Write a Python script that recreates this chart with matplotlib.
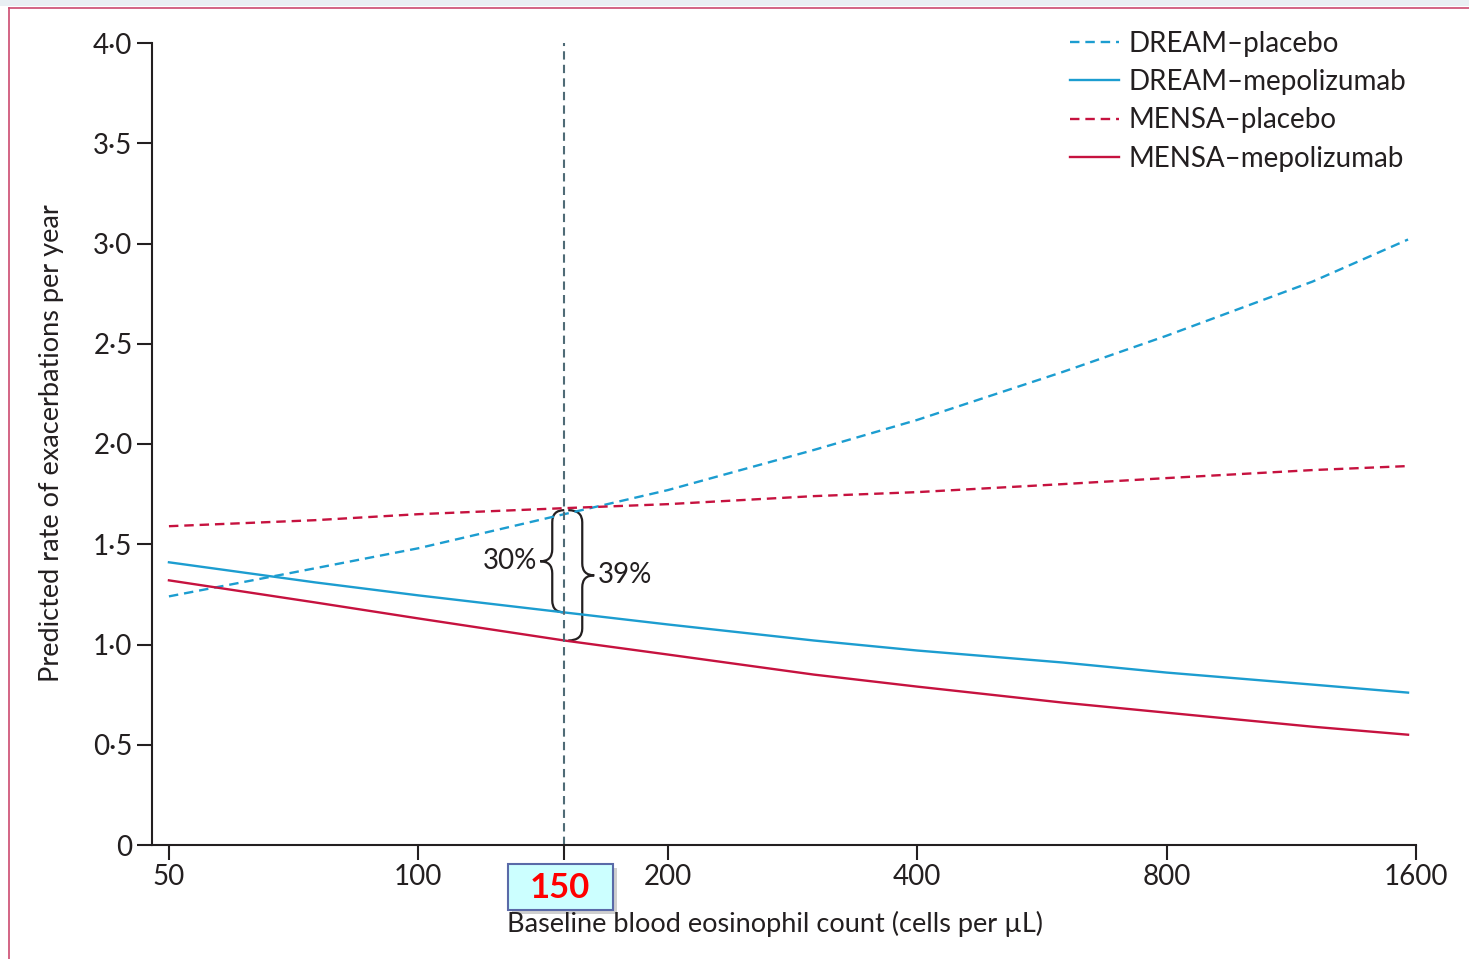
import matplotlib
matplotlib.use('Agg')
import matplotlib.pyplot as plt
from matplotlib.path import Path
from matplotlib.patches import PathPatch, Rectangle
from matplotlib.lines import Line2D
import matplotlib.transforms as mtransforms

plt.rcParams['font.family'] = ['Lato', 'DejaVu Sans']

# eosinophil counts (cells per uL) where the fitted curves were read
eos = [50, 75, 100, 150, 200, 300, 400, 600, 800, 1200, 1565]
dream_placebo = [1.24, 1.38, 1.48, 1.65, 1.77, 1.97, 2.12, 2.36, 2.54, 2.81, 3.02]
dream_mepo = [1.41, 1.31, 1.245, 1.16, 1.10, 1.02, 0.97, 0.91, 0.86, 0.80, 0.76]
mensa_placebo = [1.59, 1.62, 1.65, 1.68, 1.70, 1.74, 1.76, 1.80, 1.83, 1.87, 1.89]
mensa_mepo = [1.32, 1.21, 1.13, 1.02, 0.95, 0.85, 0.79, 0.71, 0.66, 0.59, 0.55]

xticks = [50, 100, 150, 200, 400, 800, 1600]
yticks = [0, 0.5, 1.0, 1.5, 2.0, 2.5, 3.0, 3.5, 4.0]
ylabels = ['0', '0·5', '1·0', '1·5', '2·0', '2·5', '3·0', '3·5', '4·0']
cutoff = 150

blue = '#1c9dd0'
red = '#c6123f'
ink = '#231f20'
fs = 20

fig = plt.figure(figsize=(14.69, 9.59), dpi=100)
ax = fig.add_axes([152/1469, 1-845/959, 1264/1469, 802/959])

ax.plot(eos, dream_placebo, color=blue, lw=1.7, dashes=(4, 2.5), label='DREAM–placebo')
ax.plot(eos, dream_mepo, color=blue, lw=1.7, label='DREAM–mepolizumab')
ax.plot(eos, mensa_placebo, color=red, lw=1.7, dashes=(4, 2.5), label='MENSA–placebo')
ax.plot(eos, mensa_mepo, color=red, lw=1.7, label='MENSA–mepolizumab')

ax.plot([cutoff, cutoff], [0, 4.0], color='#4f6b76', lw=1.5, dashes=(4, 2.5))

ax.set_xscale('log')
ax.set_xlim(47.7, 1600)
ax.set_ylim(0, 4.0)
ax.set_xticks(xticks)
ax.set_xticklabels([str(t) if t != cutoff else '' for t in xticks])
ax.minorticks_off()
ax.set_yticks(yticks)
ax.set_yticklabels(ylabels)
ax.tick_params(axis='both', length=11, width=1.5, color=ink, labelcolor=ink,
               labelsize=fs, pad=3)
for s in ['top', 'right']:
    ax.spines[s].set_visible(False)
for s in ['left', 'bottom']:
    ax.spines[s].set_color(ink)
    ax.spines[s].set_linewidth(1.5)

leg = ax.legend(loc='upper left', bbox_to_anchor=(1070/1469, 1-31/959),
                bbox_transform=fig.transFigure, frameon=False, fontsize=fs,
                handlelength=1.75, handletextpad=0.36, labelspacing=0.44,
                borderaxespad=0, borderpad=0)
for t in leg.get_texts():
    t.set_color(ink)

fig.text(52/1469, 1-443/959, 'Predicted rate of exacerbations per year', rotation=90,
         ha='center', va='center', fontsize=19.5, color=ink)
fig.text(775/1469, 1-924/959, 'Baseline blood eosinophil count (cells per µL)',
         ha='center', va='center', fontsize=19.5, color=ink)

# curly braces at the cutoff: x in axes fraction, y in data units
fig.canvas.draw()
xc = ax.transAxes.inverted().transform(ax.transData.transform((cutoff, 0)))[0]
px = 1/1264
tr = mtransforms.blended_transform_factory(ax.transAxes, ax.transData)


def brace(y0, y1, x_end, x_body, x_tip, h=0.06):
    ym = (y0 + y1) / 2
    verts = [(x_end, y1), (x_body, y1), (x_body, y1 - h),
             (x_body, ym + h), (x_body, ym), (x_tip, ym),
             (x_body, ym), (x_body, ym - h),
             (x_body, y0 + h), (x_body, y0), (x_end, y0)]
    codes = [Path.MOVETO, Path.CURVE3, Path.CURVE3,
             Path.LINETO, Path.CURVE3, Path.CURVE3,
             Path.CURVE3, Path.CURVE3,
             Path.LINETO, Path.CURVE3, Path.CURVE3]
    ax.add_patch(PathPatch(Path(verts, codes), transform=tr, fill=False,
                           edgecolor=ink, lw=1.6, clip_on=False))


i = eos.index(cutoff)
top = dream_placebo[i] + 0.02
brace(dream_mepo[i], top, xc, xc - 12*px, xc - 24*px)
brace(mensa_mepo[i], top, xc + 4*px, xc + 18*px, xc + 30*px)
pct_dream = round(100*(1 - dream_mepo[i]/dream_placebo[i]))
pct_mensa = round(100*(1 - mensa_mepo[i]/mensa_placebo[i]))
ax.text(xc - 27*px, (dream_mepo[i] + top)/2, f'{pct_dream}%', transform=tr,
        ha='right', va='center', fontsize=fs, color=ink)
ax.text(xc + 34*px, (mensa_mepo[i] + top)/2, f'{pct_mensa}%', transform=tr,
        ha='left', va='center', fontsize=fs, color=ink)

# highlighted cutoff label under the axis
fig.add_artist(Rectangle((512/1469, 1-914/959), 105/1469, 46/959, transform=fig.transFigure,
                         facecolor='#b0b0b0', edgecolor='none', alpha=0.6))
fig.add_artist(Rectangle((508/1469, 1-910/959), 105/1469, 46/959, transform=fig.transFigure,
                         facecolor='#ccffff', edgecolor='#5a6aa8', lw=1.5))
fig.text(560/1469, 1-888/959, str(cutoff), ha='center', va='center', fontsize=25,
         fontweight='bold', color='#ff0000')

# page frame
fig.add_artist(Line2D([9/1469, 9/1469], [0, 1-8/959], transform=fig.transFigure,
                      color='#cc4a70', lw=1.2))
fig.add_artist(Line2D([9/1469, 1], [1-8/959, 1-8/959], transform=fig.transFigure,
                      color='#cc4a70', lw=1.2))
fig.add_artist(Rectangle((0, 1-6/959), 1, 6/959, transform=fig.transFigure,
                         facecolor='#e9eff3', edgecolor='none'))

fig.savefig('out.png', dpi=100)
